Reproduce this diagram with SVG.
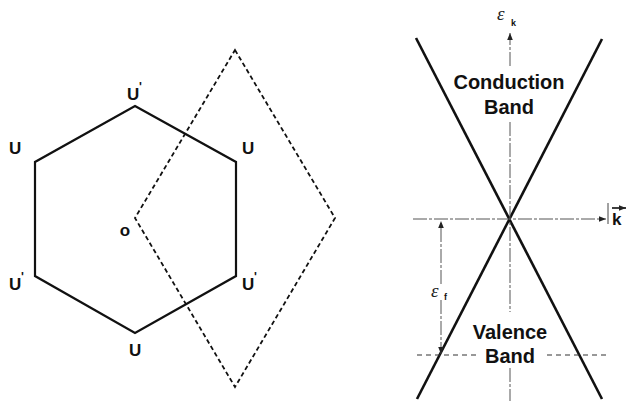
<svg xmlns="http://www.w3.org/2000/svg" width="629" height="401" viewBox="0 0 629 401">
<style>
.lbl{font-family:"Liberation Sans",Arial,sans-serif;font-weight:bold;fill:#111;}
.big{font-size:20px;}
.u{font-size:17px;}
.eps{font-family:"Liberation Serif","Times New Roman",serif;font-style:italic;font-size:19px;fill:#222;}
.sub{font-family:"Liberation Sans",Arial,sans-serif;font-weight:bold;font-size:9px;fill:#111;}
.solid{fill:none;stroke:#111;stroke-width:2.2;stroke-linejoin:miter;}
.band{fill:none;stroke:#111;stroke-width:2.6;}
.dash{fill:none;stroke:#111;stroke-width:1.8;stroke-dasharray:4.5 3;}
.axis{fill:none;stroke:#555;stroke-width:1;stroke-dasharray:14 2 3 2;}
.thin{fill:none;stroke:#444;stroke-width:1;}
.hd{fill:none;stroke:#333;stroke-width:1.2;stroke-dasharray:5 4;}
</style>
<defs>
<marker id="ah" viewBox="0 0 10 10" refX="10" refY="5" markerWidth="7" markerHeight="7" orient="auto" markerUnits="userSpaceOnUse">
<path d="M0,1 L10,5 L0,9 z" fill="#222"/>
</marker>
</defs>

<g id="hexagon">
<polygon class="solid" points="135,106 236,162 236,276 135,333 35,276 35,162"/>
</g>
<g id="rhombus">
<polygon class="dash" points="235,50 335,218 235,387 135,218"/>
</g>
<g id="labels-left">
<text class="lbl u" x="127" y="100">U</text><text class="lbl" x="139" y="91" font-size="12">'</text>
<text class="lbl u" x="9" y="154">U</text>
<text class="lbl u" x="242" y="154">U</text>
<text class="lbl u" x="125" y="236" text-anchor="middle">o</text>
<text class="lbl u" x="9" y="290">U</text><text class="lbl" x="21" y="281" font-size="12">'</text>
<text class="lbl u" x="242" y="290">U</text><text class="lbl" x="254" y="281" font-size="12">'</text>
<text class="lbl u" x="129" y="356">U</text>
</g>

<g id="connectors">
<line class="band" x1="416" y1="38" x2="602" y2="399"/>
<line class="band" x1="602" y1="39" x2="417" y2="399"/>
<line class="axis" x1="510" y1="66" x2="510" y2="33" marker-end="url(#ah)"/>
<line class="axis" x1="510" y1="122" x2="510" y2="312"/>
<line class="axis" x1="510" y1="368" x2="510" y2="401"/>
<line class="axis" x1="413" y1="219" x2="606" y2="219" marker-end="url(#ah)"/>
<line class="axis" x1="441" y1="284" x2="441" y2="221" marker-end="url(#ah)"/>
<line class="axis" x1="441" y1="300" x2="441" y2="354" marker-end="url(#ah)"/>
<line class="hd" x1="417" y1="355" x2="478" y2="355"/>
<line class="hd" x1="547" y1="355" x2="607" y2="355"/>
</g>

<g id="conduction-band">
<text class="lbl big" x="509" y="89" text-anchor="middle">Conduction</text>
<text class="lbl big" x="509" y="114" text-anchor="middle">Band</text>
</g>
<g id="valence-band">
<text class="lbl big" x="510" y="339" text-anchor="middle">Valence</text>
<text class="lbl big" x="510" y="363" text-anchor="middle">Band</text>
</g>
<g id="eps-k">
<text class="eps" x="497" y="20">ε</text><text class="sub" x="511" y="26">k</text>
</g>
<g id="eps-f">
<text class="eps" x="431" y="297">ε</text><text class="sub" x="444" y="300">f</text>
</g>
<g id="k-label">
<line class="thin" x1="608" y1="203" x2="608" y2="224" stroke-width="1.3"/>
<text class="lbl" x="612" y="225" font-size="17">k</text>
<line x1="612" y1="208" x2="626" y2="208" stroke="#111" stroke-width="1.6" marker-end="url(#ah)"/>
</g>
</svg>
